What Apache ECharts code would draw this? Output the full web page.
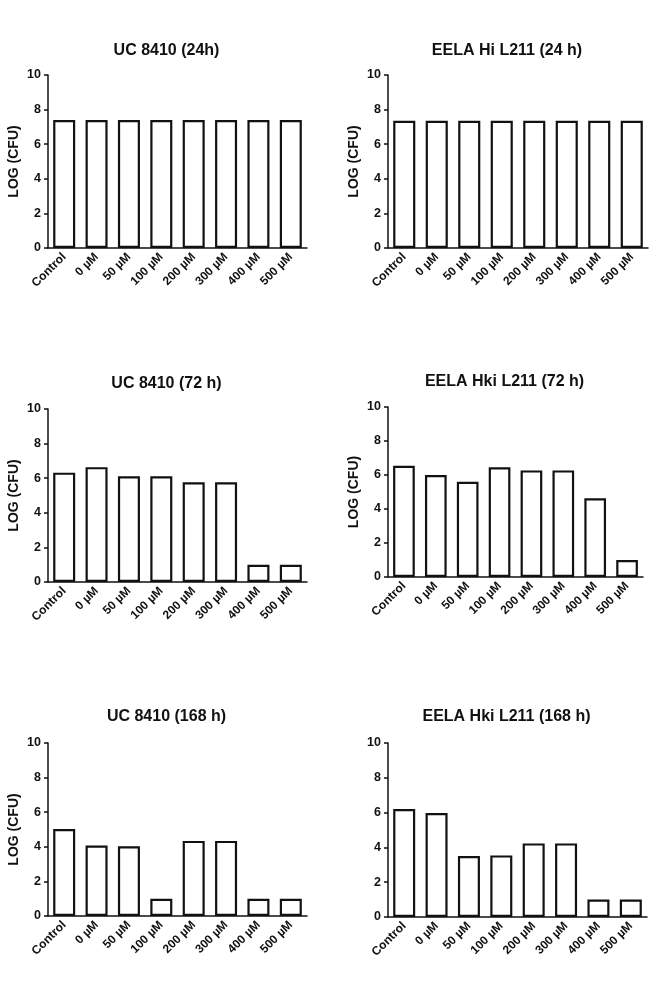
<!DOCTYPE html>
<html>
<head>
<meta charset="utf-8">
<script src="https://cdn.jsdelivr.net/npm/echarts@6/dist/echarts.min.js"></script>
<style>
  html, body { margin: 0; padding: 0; background: #fff; }
  #chart { width: 663px; height: 1008px; }
</style>
</head>
<body>
<div id="chart"></div>
<script>
// categories shared by all panels
const categories = ["Control", "0 \u00b5M", "50 \u00b5M", "100 \u00b5M", "200 \u00b5M", "300 \u00b5M", "400 \u00b5M", "500 \u00b5M"];
const yTicks = [0, 2, 4, 6, 8, 10];

// panel values (LOG CFU)
const uc24 = [7.4, 7.4, 7.4, 7.4, 7.4, 7.4, 7.4, 7.4];
const eela24 = [7.35, 7.35, 7.35, 7.35, 7.35, 7.35, 7.35, 7.35];
const uc72 = [6.32, 6.64, 6.11, 6.11, 5.77, 5.77, 1.0, 1.0];
const eela72 = [6.54, 6.0, 5.6, 6.45, 6.27, 6.27, 4.63, 1.0];
const uc168 = [5.03, 4.07, 4.03, 1.0, 4.34, 4.34, 1.0, 1.0];
const eela168 = [6.21, 5.98, 3.5, 3.54, 4.23, 4.23, 1.0, 1.0];

const titles = ["UC 8410 (24h)", "EELA Hi L211 (24 h)", "UC 8410 (72 h)", "EELA Hki L211 (72 h)", "UC 8410 (168 h)", "EELA Hki L211 (168 h)"];
const panelData = [uc24, eela24, uc72, eela72, uc168, eela168];
const yNames = ["LOG (CFU)", "LOG (CFU)", "LOG (CFU)", "LOG (CFU)", "LOG (CFU)", ""];

// grid boxes: left, top, width, height
const boxes = [
  [48, 75, 259, 173],
  [388, 75, 260, 173],
  [48, 409, 259, 173],
  [388, 407, 255, 170],
  [48, 743, 259, 173],
  [388, 743, 259, 174]
];
const titleY = [52, 52, 385, 383, 718, 718];

const FONT = "Liberation Sans, Arial, sans-serif";

const chart = echarts.init(document.getElementById("chart"));

const option = {
  backgroundColor: "#fff",
  animation: false,
  // titles sit centred over the whole panel (axis name included), a bit left of the plot centre
  title: titles.map((t, i) => ({
    text: t,
    left: boxes[i][0] + boxes[i][2] / 2 - 11,
    top: titleY[i] - 9,
    textAlign: "center",
    padding: 0,
    textStyle: { fontFamily: FONT, fontSize: 16, fontWeight: "bold", color: "#111" }
  })),
  grid: boxes.map(b => ({ left: b[0], top: b[1], width: b[2], height: b[3], containLabel: false })),
  xAxis: boxes.map((b, i) => ({
    type: "category",
    gridIndex: i,
    data: categories,
    axisLine: { lineStyle: { color: "#111", width: 1.5 } },
    axisTick: { alignWithLabel: true, length: 5, lineStyle: { color: "#111", width: 1.5 } },
    axisLabel: {
      rotate: 45,
      margin: 7,
      interval: 0,
      fontFamily: FONT,
      fontSize: 12,
      fontWeight: "bold",
      color: "#111"
    }
  })),
  yAxis: boxes.map((b, i) => ({
    type: "value",
    gridIndex: i,
    min: yTicks[0],
    max: yTicks[yTicks.length - 1],
    interval: 2,
    name: yNames[i],
    nameLocation: "middle",
    nameGap: 27,
    nameTextStyle: { fontFamily: FONT, fontSize: 14, fontWeight: "bold", color: "#111" },
    axisLine: { show: true, lineStyle: { color: "#111", width: 1.5 } },
    axisTick: { show: true, length: 4, lineStyle: { color: "#111", width: 1.5 } },
    splitLine: { show: false },
    axisLabel: { margin: 7, fontFamily: FONT, fontSize: 12.5, fontWeight: "bold", color: "#111" }
  })),
  series: panelData.map((d, i) => ({
    type: "bar",
    xAxisIndex: i,
    yAxisIndex: i,
    data: d,
    barWidth: "68%",
    itemStyle: { color: "#fff", borderColor: "#111", borderWidth: 2.2 }
  }))
};

chart.setOption(option);
</script>
</body>
</html>
